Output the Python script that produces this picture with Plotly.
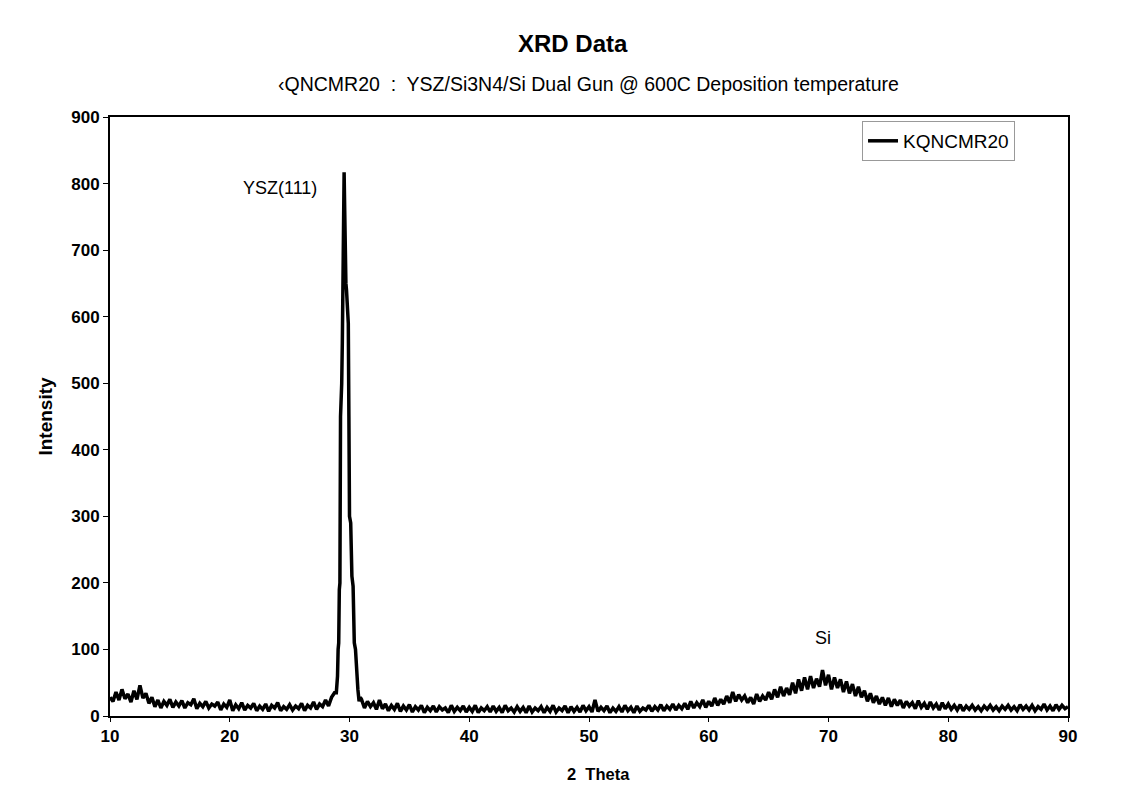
import numpy as np
import plotly.graph_objects as go

# --- Data ---
# Baseline before the YSZ(111) peak, 2θ = 10.00 ... 28.75 step 0.25
theta_pre_start, theta_pre_step = 10.0, 0.25
intensity_pre = [
    28, 22, 36, 24, 40, 26, 33, 21, 38, 25, 46, 27,
    34, 19, 28, 14, 24, 12, 22, 16, 25, 13, 21, 15,
    23, 12, 20, 17, 26, 11, 19, 14, 22, 12, 18, 15,
    21, 9, 18, 13, 24, 8, 17, 11, 20, 9, 16, 12,
    19, 8, 15, 10, 18, 7, 16, 12, 20, 8, 14, 10,
    17, 9, 15, 11, 19, 8, 16, 12, 21, 10, 18, 14,
    24, 15, 28, 35,
]

# YSZ(111) peak region
theta_peak = [28.9, 29.0, 29.05, 29.1, 29.15, 29.2, 29.25, 29.3, 29.35, 29.4,
              29.45, 29.5, 29.55, 29.6, 29.65, 29.7, 29.75, 29.8, 29.85, 29.9,
              29.95, 30.0, 30.1, 30.2, 30.3, 30.4, 30.5, 30.6, 30.7, 30.8, 30.9]
intensity_peak = [35, 60, 100, 110, 190, 200, 450, 470, 500, 560,
                  680, 780, 817, 760, 660, 650, 640, 610, 600, 590,
                  450, 300, 290, 210, 195, 110, 100, 55, 40, 22, 28]

# After the peak, 2θ = 31.00 ... 90.00 step 0.25
theta_post_start, theta_post_step = 31.0, 0.25
intensity_post = [
    25, 12, 22, 14, 20, 10, 24, 11,
    18, 8, 16, 10, 19, 7, 15, 9,
    17, 6, 14, 9, 16, 5, 13, 8, 15, 6, 14, 9, 12, 5, 16, 7, 13, 8, 15, 6,
    13, 7, 16, 5, 12, 8, 14, 6, 15, 7, 13, 5, 16, 8, 12, 6, 14, 7, 13, 5,
    15, 6, 12, 8, 14, 5, 13, 7, 16, 6, 12, 8, 15, 5, 14, 7, 13, 6, 16, 8,
    14, 6, 24, 7, 13, 8, 15, 5, 12, 7, 14, 6, 16, 8, 13, 5, 15, 7, 12, 9,
    16, 7, 14, 9, 17, 8, 15, 10, 18, 9, 16, 11, 19, 10, 22, 12, 20, 14, 24, 13,
    22, 15, 27, 16, 25, 18, 30, 20, 36, 22, 32, 24, 30, 20, 28, 18, 33, 22, 30, 24,
    36, 25, 40, 28, 44, 30, 42, 32, 50, 34, 55, 38, 58, 40, 60, 42, 56, 44, 69, 46,
    62, 40, 58, 42, 55, 36, 52, 34, 48, 30, 44, 28, 38, 22, 34, 20, 30, 18, 28, 16,
    27, 14, 25, 16, 24, 12, 22, 15, 20, 11, 23, 13, 19, 10, 21, 12, 18, 9, 20, 11,
    18, 10, 16, 9, 17, 8, 15, 10, 16, 9, 14, 8, 15, 10, 16, 9, 14, 8, 15, 10,
    16, 9, 14, 8, 17, 10, 15, 9, 16, 8, 14, 10, 18, 9, 15, 8, 17, 10, 16, 11,
    14,
]

x_ticks = [10, 20, 30, 40, 50, 60, 70, 80, 90]
y_ticks = [0, 100, 200, 300, 400, 500, 600, 700, 800, 900]

series_name = "KQNCMR20"
title_text = "XRD Data"
subtitle_text = "\u2039QNCMR20  :  YSZ/Si3N4/Si Dual Gun @ 600C Deposition temperature"
x_title = "2  Theta"
y_title = "Intensity"
peak_labels = ["YSZ(111)", "Si"]
peak_label_x = [24.2, 69.5]
peak_label_y = [793, 117]

# --- Build arrays ---
theta_pre = theta_pre_start + theta_pre_step * np.arange(len(intensity_pre))
theta_post = theta_post_start + theta_post_step * np.arange(len(intensity_post))
two_theta = np.concatenate([theta_pre, np.array(theta_peak), theta_post])
intensity = np.concatenate([intensity_pre, intensity_peak, intensity_post])

font_family = "Liberation Sans, Arial, sans-serif"

fig = go.Figure()
fig.add_trace(go.Scatter(
    x=two_theta, y=intensity, mode="lines", name=series_name,
    line=dict(color="black", width=3.5), showlegend=True,
))

for txt, xx, yy in zip(peak_labels, peak_label_x, peak_label_y):
    fig.add_annotation(x=xx, y=yy, text=txt, showarrow=False,
                       font=dict(family=font_family, size=18, color="black"))

fig.add_annotation(x=0.483, y=1.122, xref="paper", yref="paper", text=f"<b>{title_text}</b>",
                   showarrow=False, xanchor="center", yanchor="middle",
                   font=dict(family=font_family, size=24, color="black"))
fig.add_annotation(x=0.499, y=1.055, xref="paper", yref="paper", text=subtitle_text,
                   showarrow=False, xanchor="center", yanchor="middle",
                   font=dict(family=font_family, size=19.5, color="black"))
fig.add_annotation(x=0.510, y=-0.097, xref="paper", yref="paper", text=f"<b>{x_title}</b>",
                   showarrow=False, xanchor="center", yanchor="middle",
                   font=dict(family=font_family, size=16.5, color="black"))

fig.update_layout(
    width=1146, height=804,
    margin=dict(l=102, r=86, t=109, b=96),
    paper_bgcolor="white", plot_bgcolor="white",
    font=dict(family=font_family, color="black"),
    legend=dict(
        x=0.785, y=0.96, xanchor="left", yanchor="middle",
        bgcolor="white", bordercolor="#999999", borderwidth=1,
        font=dict(family=font_family, size=19, color="black"),
        itemwidth=30, tracegroupgap=0,
    ),
    xaxis=dict(
        range=[10, 90], tickvals=x_ticks, ticktext=[str(v) for v in x_ticks],
        showgrid=False, zeroline=False, showline=True, linecolor="black", linewidth=2,
        mirror=True, ticks="outside", ticklen=4, tickcolor="black",
        tickfont=dict(family=font_family, size=17, color="black", weight="bold"),
        automargin=False,
    ),
    yaxis=dict(
        range=[0, 900], tickvals=y_ticks, ticktext=[str(v) for v in y_ticks],
        showgrid=False, zeroline=False, showline=True, linecolor="black", linewidth=2,
        mirror=True, ticks="outside", ticklen=5, tickcolor="black",
        tickfont=dict(family=font_family, size=17, color="black", weight="bold"),
        title=dict(text=f"<b>{y_title}</b>", font=dict(family=font_family, size=19), standoff=14),
        automargin=False,
    ),
)

fig.write_html("out.html")
